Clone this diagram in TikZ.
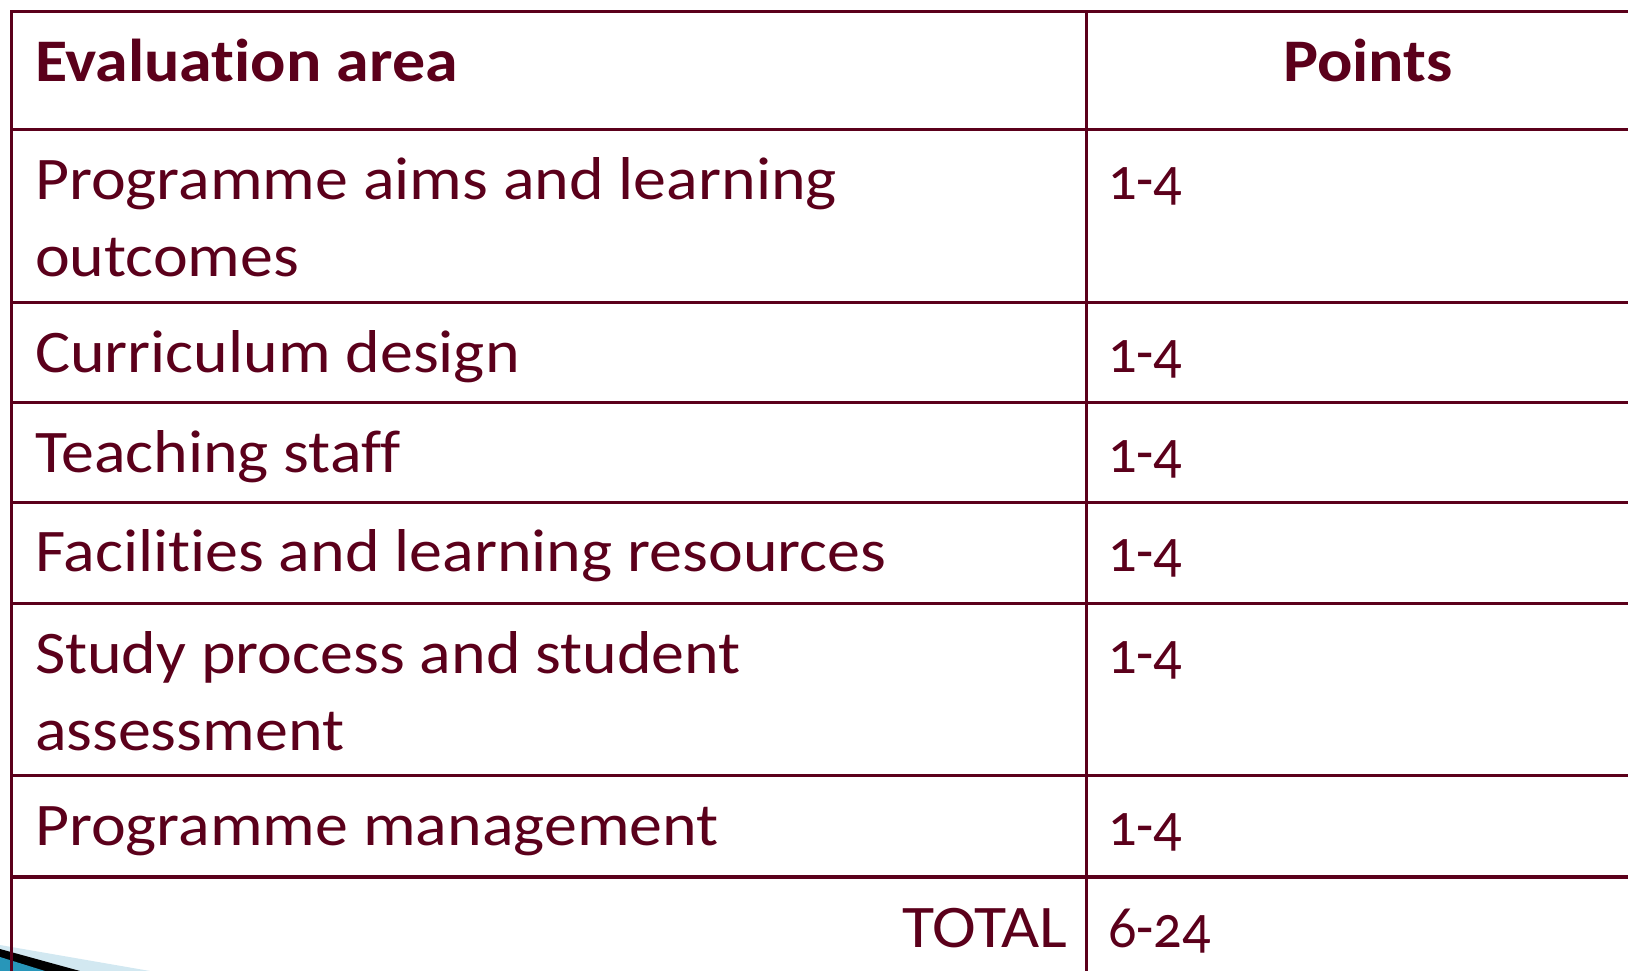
\documentclass[tikz,border=0pt]{standalone}
\usepackage{fontspec}
\setmainfont{Carlito}[Numbers=OldStyle, FakeStretch=1.09, Ligatures=NoCommon]
\newfontfamily\numfont{Carlito}[Numbers=OldStyle, FakeStretch=0.93]
\definecolor{maroon}{RGB}{91,0,27}
\definecolor{lightband}{RGB}{210,232,241}
\definecolor{tealband}{RGB}{40,150,185}
\tikzset{
  grid/.style={draw=maroon, line width=0.03cm},
  cell/.style={inner sep=0pt, outer sep=0pt, text=maroon, font=\fontsize{17.2pt}{21pt}\selectfont},
  head/.style={cell, font=\fontsize{17.2pt}{21pt}\selectfont\bfseries},
  num/.style={cell, font=\fontsize{17.2pt}{21pt}\numfont},
}
\begin{document}
\begin{tikzpicture}[x=0.01cm, y=-0.01cm]
\useasboundingbox (0,0) rectangle (1628,971);
% decoration bottom left
\fill[lightband] (0,945) -- (150,971) -- (0,971) -- cycle;
\fill[black] (0,949) -- (80,971) -- (0,971) -- cycle;
\fill[tealband] (0,957) -- (45,971) -- (0,971) -- cycle;
% grid
\coordinate (tl) at (11.7,11.7);
\draw[grid] (1640,11.7) -- (tl) -- (11.7,980);
\draw[grid] (1086,11.7) -- (1086,980);
\foreach \yy in {130,303,403,503,604,776,877}
  \draw[grid] (11.7,\yy) -- (1640,\yy);
% header
\node[head, anchor=base west] (h1) at (35,81.7) {Evaluation area};
\node[head, anchor=base] (h2) at (1368,81.7) {Points};
% rows
\node[cell, anchor=base west] (a1) at (35,200) {Programme aims and learning};
\node[cell, anchor=base west] (a1b) at (35,276.7) {outcomes};
\node[num, anchor=base west] (p1) at (1108,200) {1-4};
\node[cell, anchor=base west] (a2) at (35,373) {Curriculum design};
\node[num, anchor=base west] (p2) at (1108,373) {1-4};
\node[cell, anchor=base west] (a3) at (35,473) {Teaching staff};
\node[num, anchor=base west] (p3) at (1108,473) {1-4};
\node[cell, anchor=base west] (a4) at (35,572) {Facilities and learning resources};
\node[num, anchor=base west] (p4) at (1108,572) {1-4};
\node[cell, anchor=base west] (a5) at (35,674) {Study process and student};
\node[cell, anchor=base west] (a5b) at (35,750.7) {assessment};
\node[num, anchor=base west] (p5) at (1108,674) {1-4};
\node[cell, anchor=base west] (a6) at (35,846) {Programme management};
\node[num, anchor=base west] (p6) at (1108,846) {1-4};
\node[cell, anchor=base east] (tot) at (1067,947) {TOTAL};
\node[num, anchor=base west] (pt) at (1108,947) {6-24};
\end{tikzpicture}
\end{document}
